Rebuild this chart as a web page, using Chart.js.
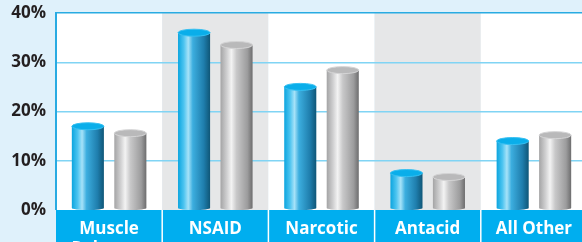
<!DOCTYPE html>
<html>
<head>
<meta charset="utf-8">
<script src="https://cdn.jsdelivr.net/npm/chart.js@4"></script>
<style>
  html, body { margin: 0; padding: 0; background: #dff1fb; overflow: hidden; }
  #wrap { width: 587px; height: 242px; position: relative; }
</style>
</head>
<body>
<div id="wrap"><canvas id="chart"></canvas></div>
<script>
const categories = [['Muscle', 'Relaxant'], 'NSAID', 'Narcotic', 'Antacid', 'All Other'];
const blueValues = [17, 36, 25, 7.5, 14];
const grayValues = [15.6, 33.5, 28.4, 6.7, 15.2];
const yMin = 0, yMax = 40, yStep = 10;

const FONT = '"Open Sans", "Liberation Sans", sans-serif';

const shades = {
  blue: {
    body: [[0, '#0ba5df'], [0.18, '#4cc4f0'], [0.32, '#a6e2f8'], [0.46, '#3caedf'], [0.8, '#1f7ead'], [1, '#0f5677']],
    top: '#0aaeea', topEdge: '#36c0f2'
  },
  gray: {
    body: [[0, '#a4a4a5'], [0.2, '#d0d0d1'], [0.34, '#f3f3f3'], [0.5, '#c8c8c9'], [0.84, '#9c9c9d'], [1, '#6d6d6e']],
    top: '#b9b9ba', topEdge: '#d4d4d5'
  }
};

const backdrop = {
  id: 'backdrop',
  beforeDraw(chart) {
    const { ctx, chartArea: a, scales: { x } } = chart;
    const half = (x.getPixelForValue(1) - x.getPixelForValue(0)) / 2;
    ctx.save();
    ctx.fillStyle = '#dff1fb';
    ctx.fillRect(0, 0, chart.width, chart.height);
    categories.forEach((c, i) => {
      const cx = x.getPixelForValue(i);
      ctx.fillStyle = i % 2 ? '#e6e7e8' : '#ffffff';
      ctx.fillRect(cx - half, a.top, half * 2, a.bottom - a.top);
    });
    ctx.fillStyle = '#00aeef';
    ctx.fillRect(a.left, a.bottom, a.right - a.left, chart.height - a.bottom);
    ctx.strokeStyle = '#ffffff';
    ctx.lineWidth = 1.5;
    for (let i = 1; i < categories.length; i++) {
      const bx = x.getPixelForValue(i) - half;
      ctx.beginPath();
      ctx.moveTo(bx, a.bottom);
      ctx.lineTo(bx, chart.height);
      ctx.stroke();
    }
    ctx.restore();
  }
};

const cylinders = {
  id: 'cylinders',
  afterDatasetsDraw(chart) {
    const { ctx } = chart;
    ctx.save();
    chart.data.datasets.forEach((ds, di) => {
      const s = shades[ds.shade];
      chart.getDatasetMeta(di).data.forEach((el) => {
        const { x, y, base, width } = el.getProps(['x', 'y', 'base', 'width'], true);
        const l = x - width / 2, r = x + width / 2;
        const g = ctx.createLinearGradient(l, 0, r, 0);
        s.body.forEach(([p, c]) => g.addColorStop(p, c));
        const ry = 3.5;
        const bottom = base - 2;
        ctx.fillStyle = g;
        ctx.beginPath();
        ctx.moveTo(l, y);
        ctx.lineTo(l, bottom);
        ctx.ellipse(x, bottom, width / 2, 2, 0, Math.PI, 0, true);
        ctx.lineTo(r, y);
        ctx.closePath();
        ctx.fill();
        ctx.fillStyle = s.top;
        ctx.strokeStyle = s.topEdge;
        ctx.lineWidth = 1;
        ctx.beginPath();
        ctx.ellipse(x, y, width / 2, ry, 0, 0, Math.PI * 2);
        ctx.fill();
        ctx.stroke();
      });
    });
    ctx.restore();
  }
};

new Chart(document.getElementById('chart'), {
  type: 'bar',
  data: {
    labels: categories,
    datasets: [
      { label: 'Blue', data: blueValues, shade: 'blue', backgroundColor: 'rgba(0,0,0,0)' },
      { label: 'Gray', data: grayValues, shade: 'gray', backgroundColor: 'rgba(0,0,0,0)' }
    ]
  },
  options: {
    responsive: true,
    maintainAspectRatio: false,
    animation: false,
    categoryPercentage: 0.8,
    barPercentage: 0.755,
    layout: { padding: { top: 13, left: 0, right: 0, bottom: 0 } },
    plugins: { legend: { display: false }, tooltip: { enabled: false } },
    scales: {
      x: {
        afterFit: (scale) => { scale.height = 32; },
        grid: { display: false },
        border: { display: false },
        ticks: {
          color: '#ffffff',
          maxRotation: 0,
          autoSkip: false,
          padding: 1,
          font: { family: FONT, size: 17, weight: 'bold', lineHeight: 1.2 }
        }
      },
      y: {
        min: yMin,
        max: yMax,
        afterFit: (scale) => { scale.width = 56; scale.paddingTop = 0; scale.paddingBottom = 0; },
        border: { display: true, color: '#29abe2', width: 2 },
        grid: {
          drawTicks: false,
          color: (c) => c.tick && c.tick.value === yMax ? '#29abe2' : '#80d4f4',
          lineWidth: (c) => c.tick && c.tick.value === yMin ? 0 : 1.5
        },
        ticks: {
          stepSize: yStep,
          padding: 10,
          color: '#231f20',
          font: { family: FONT, size: 17, weight: 'bold' },
          callback: (v) => v + '%'
        }
      }
    }
  },
  plugins: [backdrop, cylinders]
});
</script>
</body>
</html>
